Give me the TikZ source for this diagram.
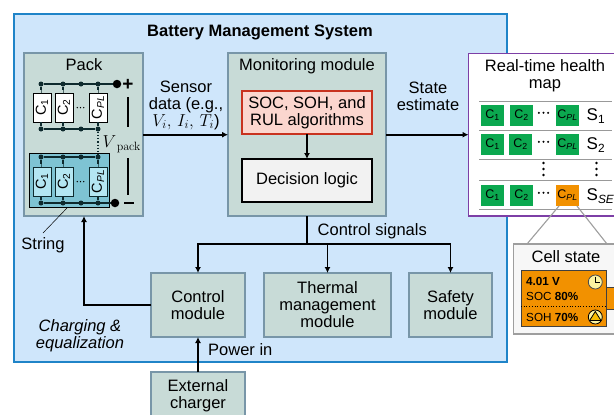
\documentclass[tikz,border=0pt]{standalone}
\usepackage[no-math]{fontspec}
\setmainfont{Liberation Sans}
\usetikzlibrary{arrows.meta}
\definecolor{bmsfill}{HTML}{CFE6FB}
\definecolor{bmsline}{HTML}{1F84C8}
\definecolor{modfill}{HTML}{C8DBD7}
\definecolor{modline}{HTML}{7896A8}
\definecolor{wire}{HTML}{0E2A2E}
\definecolor{stringfill}{HTML}{7EC3D3}
\definecolor{cellblue}{HTML}{B4E6F2}
\definecolor{okgreen}{HTML}{0BA84F}
\definecolor{warnorange}{HTML}{F29100}
\definecolor{mappurple}{HTML}{7D3FA6}
\definecolor{algfill}{HTML}{FBD6CE}
\definecolor{algline}{HTML}{C8321E}
\definecolor{softyellow}{HTML}{FBF3A0}
\newcommand{\fs}[1]{\fontsize{#1}{\dimexpr#1pt*103/100\relax}\selectfont}
\newcommand{\bx}[7][]{%
  \pgfmathsetmacro{\bxw}{#5-#3}\pgfmathsetmacro{\bxh}{#6-#4}%
  \pgfmathsetmacro{\bxx}{(#3+#5)/2}\pgfmathsetmacro{\bxy}{(#4+#6)/2}%
  \node[#1,minimum width=\bxw pt,minimum height=\bxh pt,inner sep=0pt,outer sep=0pt,anchor=center] (#2) at (\bxx,\bxy) {#7};}
\newcommand{\Csub}[1]{C\textsubscript{#1}}
\newcommand{\CPL}{C\textsubscript{\itshape PL}}
\newcommand{\hdots}{\tikz[baseline=-1.5pt,x=1pt,y=1pt]{\foreach \q in {0,4.6,9.2}{\fill (\q,0) circle (1.15pt);}}}
\newcommand{\hdotsm}{\tikz[baseline=-1.5pt,x=1pt,y=1pt]{\foreach \q in {0,3.2,6.4}{\fill (\q,0) circle (0.7pt);}}}
\tikzset{
  every node/.style={font=\fs{16.5},align=center},
  module/.style={draw=modline,fill=modfill,line width=1.3pt},
  packcell/.style={draw=black,fill=white,line width=0.9pt,font=\fs{14.5}},
  stringcell/.style={draw=wire,fill=cellblue,line width=0.9pt,font=\fs{14.5}},
  capbox/.style={draw=wire,line width=0.7pt},
  wdot/.style={circle,fill=wire,inner sep=0pt,minimum size=5pt},
  bigdot/.style={circle,fill=black,inner sep=0pt,minimum size=8.5pt},
  wireline/.style={draw=wire,line width=1.2pt},
  flow/.style={draw=black,line width=1.6pt,-{Latex[length=6pt,width=6pt]}},
  flowplain/.style={draw=black,line width=1.8pt},
  mapcell/.style={fill=okgreen,font=\fs{12.5}},
  mapcellbad/.style={fill=warnorange,font=\fs{12.5}},
  rowline/.style={draw=black!40,line width=1pt},
  graylink/.style={draw=black!38,line width=1.1pt},
  smalltxt/.style={font=\fs{11.7},anchor=west,inner sep=0pt},
}
\begin{document}
\begin{tikzpicture}[x=1pt,y=-1pt]
\useasboundingbox (0,0) rectangle (614,415);
\clip (0,0) rectangle (614,415);
% system box
\bx[draw=bmsline,fill=bmsfill,line width=1.3pt]{bms}{14}{14}{507}{362}{}
\node[font=\fs{16.5}\bfseries] (bmstitle) at (260,32) {Battery Management System};
% modules
\bx[module]{pack}{24}{53}{143}{216}{}
\node (packtitle) at (84,65) {Pack};
\bx[module]{mon}{228}{53}{386}{216}{}
\node (montitle) at (307,66) {Monitoring module};
\bx[draw=algline,fill=algfill,line width=1.3pt]{alg}{242}{91}{372}{134}{SOC, SOH, and\\RUL algorithms}
\bx[draw=black,fill=black!5,line width=1.3pt]{dec}{242}{159}{372}{202}{Decision logic}
\bx[module]{ctrl}{151}{273}{245}{337}{Control\\module}
\bx[module]{therm}{264}{273}{391}{337}{Thermal\\management\\module}
\bx[module]{safe}{409}{273}{492}{337}{Safety\\module}
\bx[module]{ext}{151}{372}{245}{425}{}
\node (exttext) at (198,396) {External\\charger};
% pack: upper string
\foreach \n/\x in {a/41,b/63,c/81,d/98}{
  \node[wdot] (t\n) at (\x,84) {};
  \node[wdot] (u\n) at (\x,129) {};
}
\node[bigdot] (plus) at (117,84) {};
\draw[wireline] (ta) -- (plus);
\draw[wireline] (ua) -- (ud);
\bx[packcell]{c1}{33}{93}{51}{122}{\rotatebox{90}{\Csub{1}}}
\bx[packcell]{c2}{55}{93}{73}{122}{\rotatebox{90}{\Csub{2}}}
\bx[packcell]{c3}{89}{93}{107}{122}{\rotatebox{90}{\CPL}}
\foreach \cc/\x in {c1/41,c2/63,c3/98}{
  \bx[capbox,fill=white]{cap\cc}{\x-4}{90}{\x+4}{93}{}
}
\foreach \n/\cc in {a/c1,b/c2,d/c3}{
  \draw[wireline] (t\n) -- (cap\cc.north -| t\n);
  \draw[wireline] (\cc.south -| u\n) -- (u\n);
}
\node[inner sep=0pt] (dots1) at (80.5,108) {\hdotsm};
\node[font=\fs{19}\bfseries,inner sep=0pt] (plussign) at (128,85) {+};
% lower string
\bx[draw=black,fill=stringfill,line width=0.9pt]{string}{29}{153}{109}{207}{}
\foreach \n/\x in {a/41,b/63,c/81,d/98}{
  \node[wdot] (v\n) at (\x,157) {};
  \node[wdot] (w\n) at (\x,203) {};
}
\node[bigdot] (minus) at (115,203) {};
\draw[wireline] (va) -- (vd);
\draw[wireline] (wa) -- (minus);
\bx[stringcell]{s1}{33}{167}{51}{196}{\rotatebox{90}{\Csub{1}}}
\bx[stringcell]{s2}{55}{167}{73}{196}{\rotatebox{90}{\Csub{2}}}
\bx[stringcell]{s3}{89}{167}{107}{196}{\rotatebox{90}{\CPL}}
\foreach \cc/\x in {s1/41,s2/63,s3/98}{
  \bx[capbox,fill=cellblue]{cap\cc}{\x-4}{164}{\x+4}{167}{}
}
\foreach \n/\cc in {a/s1,b/s2,d/s3}{
  \draw[wireline] (v\n) -- (cap\cc.north -| v\n);
  \draw[wireline] (\cc.south -| w\n) -- (w\n);
}
\node[inner sep=0pt] (dots2) at (80.5,182) {\hdotsm};
\draw[wireline,dotted,line width=1.4pt] (ud) -- (vd);
\node[inner sep=0pt,font=\fs{16}] (vpack) at (121.5,144.5) {\mbox{$V$\kern0.5pt\raisebox{-3pt}{\fs{12.5}$\mathrm{pack}$}}};
\coordinate (pa) at (128,97); \coordinate (pb) at (128,127);
\coordinate (pc) at (128,158); \coordinate (pd) at (128,195);
\draw[draw=black,line width=1.1pt] (pa) -- (pb);
\draw[draw=black,line width=1.1pt] (pc) -- (pd);
\coordinate (minusL) at (124,203); \coordinate (minusR) at (134,203);
\draw[draw=black,line width=1.8pt] (minusL) -- (minusR);
\node (stringlabel) at (43,245) {String};
\coordinate (strA) at (67,208); \coordinate (strB) at (43,233);
\draw[black,line width=0.5pt] (strA) -- (strB);
% flows
\draw[flow] (pack.east |- 0,134.7) -- (mon.west |- 0,134.7);
\node (sensor) at (186,105) {Sensor\\data (e.g.,\\$V_i,\,I_i,\,T_i$)};
\bx[draw=mappurple,fill=white,line width=1.6pt]{map}{468.5}{53.5}{640}{216}{}
\draw[flow] (mon.east |- 0,134.7) -- (map.west |- 0,134.7);
\node (state) at (428,96.5) {State\\estimate};
\draw[flow] (alg) -- (dec);
\coordinate (hub) at (mon.south |- 0,244);
\coordinate (hubL) at (ctrl.north |- 0,244);
\coordinate (hubM) at (therm.north |- 0,244);
\coordinate (hubR) at (safe.north |- 0,244);
\draw[flowplain] (mon.south) -- (hub);
\draw[flow] (hub) -- (hubL) -- (ctrl.north);
\draw[flow] (hubM) -- (therm.north);
\draw[flow] (hub) -- (hubR) -- (safe.north);
\node[anchor=west,inner sep=0pt] (ctrlsig) at (317.5,231) {Control signals};
\coordinate (backturn) at (84,305);
\draw[flow] (ctrl.west |- backturn) -- (backturn) -- (backturn |- pack.south);
\node[font=\fs{16.5}\itshape] (charging) at (80,336) {Charging \&\\equalization};
\draw[flow] (ext.north) -- (ctrl.south);
\node[anchor=west,inner sep=0pt] (powerin) at (208,350) {Power in};
% health map
\node (maptitle) at (545,76) {Real-time health\\map};
\foreach \n/\y in {1/101,2/130,3/159,4/180.3,5/209.3}{
  \coordinate (rl\n) at (479,\y); \coordinate (rr\n) at (611.7,\y);
  \draw[rowline] (rl\n) -- (rr\n);
}
\foreach \r/\y/\xb in {1/105/510,2/134/509}{
  \bx[mapcell]{m\r a}{481}{\y}{504}{\y+21}{\Csub{1}}
  \bx[mapcell]{m\r b}{\xb}{\y}{\xb+23}{\y+21}{\Csub{2}}
  \bx[mapcell]{m\r c}{556}{\y}{579}{\y+21}{\CPL}
  \node[inner sep=0pt] (m\r d) at (543.5,\y+8) {\hdots};
}
\bx[mapcell]{m4a}{481}{185}{504}{206}{\Csub{1}}
\bx[mapcell]{m4b}{510}{185}{533}{206}{\Csub{2}}
\bx[mapcellbad]{m4c}{556}{185}{579}{206}{\CPL}
\node[inner sep=0pt] (m4d) at (543.5,193) {\hdots};
\node[font=\fs{17},anchor=west,inner sep=0pt] (sl1) at (586.5,116) {S\textsubscript{1}};
\node[font=\fs{17},anchor=west,inner sep=0pt] (sl2) at (586.5,145) {S\textsubscript{2}};
\node[font=\fs{17},anchor=west,inner sep=0pt] (sl4) at (586.5,196) {S\textsubscript{\itshape SE}};
\foreach \n/\x in {a/543.5,b/596.5}{
  \foreach \k/\y in {1/163,2/169,3/175}{
    \node[circle,fill=black,inner sep=0pt,minimum size=2.6pt] (vd\n\k) at (\x,\y) {};
  }
}
% cell state
\bx[draw=black!38,fill=black!3,line width=1.1pt]{cellstate}{513.5}{244}{640}{334}{}
\coordinate (lkA) at (559,206); \coordinate (lkB) at (527,244);
\coordinate (lkC) at (577,206); \coordinate (lkD) at (607,244);
\draw[graylink] (lkA) -- (lkB);
\draw[graylink] (lkC) -- (lkD);
\node (cstitle) at (566,257) {Cell state};
\bx[draw=black!75,fill=warnorange,line width=0.8pt]{tab}{606.5}{287}{640}{309}{}
\bx[draw=black!75,fill=warnorange,line width=0.9pt]{cellcard}{521}{270.7}{606.7}{326.7}{}
\coordinate (dotL) at (521,306.7); \coordinate (dotR) at (606.7,306.7);
\draw[black,line width=0.7pt,dotted] (dotL) -- (dotR);
\node[smalltxt,font=\fs{11.7}\bfseries] (volt) at (526,281) {4.01 V};
\node[smalltxt] (soc) at (526,296) {SOC \textbf{80\%}};
\node[smalltxt] (soh) at (526,317) {SOH \textbf{70\%}};
\node[circle,draw=black!70,fill=softyellow,line width=0.8pt,minimum size=14pt,inner sep=0pt] (clock) at (595.3,282) {};
\coordinate (clkH) at (595.3,276.5); \coordinate (clkM) at (600,282);
\draw[black,line width=0.9pt] (clkH) -- (clock.center) -- (clkM);
\node[circle,draw=black,fill=softyellow,line width=0.8pt,minimum size=14pt,inner sep=0pt] (warn) at (595.3,317) {};
\coordinate (triA) at (595.3,311.5); \coordinate (triB) at (601,320.5); \coordinate (triC) at (589.6,320.5);
\draw[black,fill=warnorange!60!yellow,line width=0.8pt] (triA) -- (triB) -- (triC) -- cycle;
\end{tikzpicture}
\end{document}
